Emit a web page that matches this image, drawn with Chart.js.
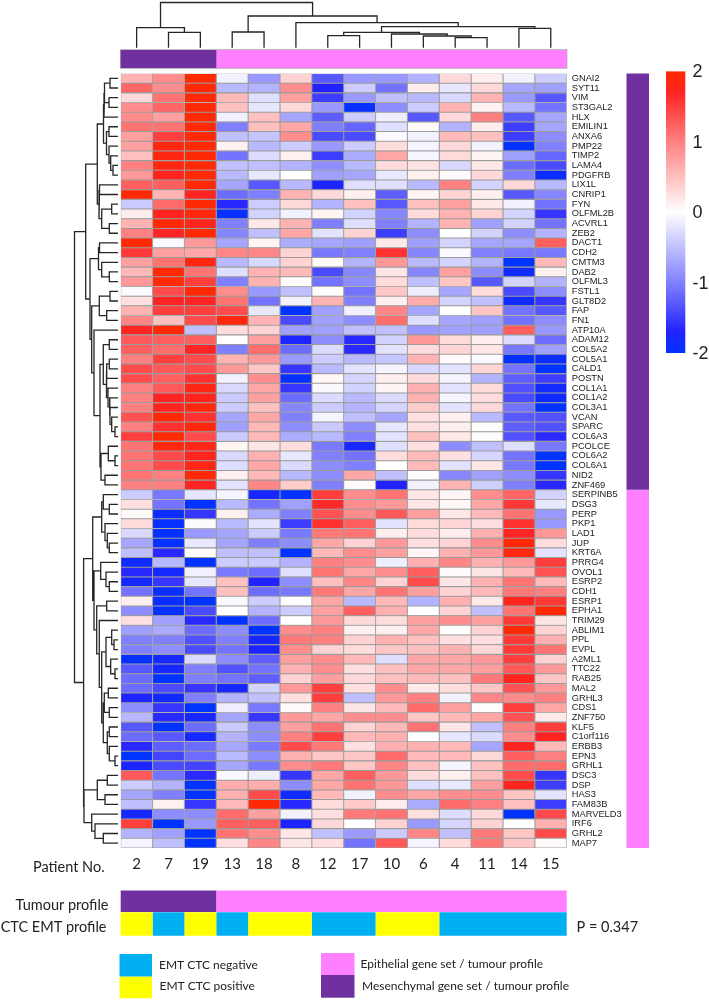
<!DOCTYPE html>
<html lang="en">
<head>
<meta charset="UTF-8">
<title>EMT gene expression heatmap</title>
<script src="https://cdn.jsdelivr.net/npm/chart.js"></script>
<style>
  html, body { margin: 0; background: #fff; }
  canvas { display: block; }
</style>
</head>
<body>
<canvas id="heatmap" width="709" height="1000"></canvas>
<script>
const patients = ['2','7','19','13','18','8','12','17','10','6','4','11','14','15'];

const genes = ['GNAI2','SYT11','VIM','ST3GAL2','HLX','EMILIN1','ANXA6','PMP22','TIMP2','LAMA4','PDGFRB','LIX1L','CNRIP1','FYN','OLFML2B','ACVRL1','ZEB2','DACT1','CDH2','CMTM3','DAB2','OLFML3','FSTL1','GLT8D2','FAP','FN1','ATP10A','ADAM12','COL5A2','COL5A1','CALD1','POSTN','COL1A1','COL1A2','COL3A1','VCAN','SPARC','COL6A3','PCOLCE','COL6A2','COL6A1','NID2','ZNF469','SERPINB5','DSG3','PERP','PKP1','LAD1','JUP','KRT6A','PRRG4','OVOL1','ESRP2','CDH1','ESRP1','EPHA1','TRIM29','ABLIM1','PPL','EVPL','A2ML1','TTC22','RAB25','MAL2','GRHL3','CDS1','ZNF750','KLF5','C1orf116','ERBB3','EPN3','GRHL1','DSC3','DSP','HAS3','FAM83B','MARVELD3','IRF6','GRHL2','MAP7'];

// one row per gene, one column per patient
const expression = [
  [.6,.9,2,-.1,-.8,.35,-1.3,-.8,-.8,-.6,.3,.15,-.1,-.4],
  [1.2,.9,1.95,-.55,-.6,.9,-1.7,-.4,-1.1,.15,-.2,.3,-.7,-.75],
  [.3,1.1,1.95,.55,-.25,.75,-1.5,-.8,-.5,-.55,-.3,.6,-.8,-1.3],
  [.9,1.2,1.95,.5,-.2,.3,-.8,-1.95,-.9,-.4,.6,.1,-.55,-1.1],
  [.9,.75,1.95,-.12,.5,-.7,-1.25,-.4,-.13,-1.3,.3,1,-1.3,-.7],
  [1.1,1.1,1.95,-1,.5,.7,-1,-1.2,-.25,.03,-.6,.15,-1.5,-.7],
  [.75,1.5,1.95,-.5,-.45,.9,-1.4,-1.4,-.04,-.1,.55,.5,-1.5,-.9],
  [.75,1.85,1.95,.1,-.55,-.4,-.8,-.4,.27,-.08,.3,-.1,-2,-1],
  [.5,1.85,1.95,-1.1,-.28,.12,-1.5,-.65,.7,-.08,.28,.08,-.75,-1.2],
  [1,1.85,1.95,-.5,-.5,-.6,-.9,-.55,.28,.22,-.3,.18,-1.15,-1.4],
  [.8,1.75,1.95,-.55,-.18,0,-.75,-.7,-.18,.12,.03,.3,-1,-1.9],
  [1.25,1.25,1.95,-.7,-1.3,-.55,-1.75,-.25,-.25,-.55,1,-.35,.3,-.55],
  [1.95,.6,1.7,-1.15,-1,.6,.3,.12,-1.25,.08,.35,.12,-1.3,-.95],
  [-.42,1.15,1.95,-1.65,-.4,.3,-.6,.5,-1.3,.5,.75,.18,-.1,-1.1],
  [.15,1.75,1.9,-1.95,-.35,-.1,.08,-.35,-.95,.28,.6,.35,-.35,-1.55],
  [.6,1.95,1.75,-1,.18,.6,-1,-.25,-1,-.6,.6,-.75,-.35,-1.1],
  [1,1.7,1.95,-.95,-.5,.7,-.22,.35,-1.5,-.9,0,-.35,-.9,-.6],
  [1.95,-.05,.8,-.7,.08,-.65,-.7,-.75,.18,-.75,-.35,-.7,-.7,1.25],
  [1.55,.75,.7,.95,.95,.35,-1.05,-1,1.6,-.95,-.05,-1,-1.05,-1.05],
  [.75,1.1,1.85,-.55,-.3,.35,.02,-.6,.8,-.55,-.35,-.6,-2,.55],
  [.55,1.95,1.1,-.25,.6,.55,-1.4,-.95,.2,-.95,.75,-.9,-1.85,.12],
  [.8,1.95,1.5,-1,.6,.02,-1.1,-.9,.28,-.5,.45,-1.3,-.35,-.6],
  [-.03,1.4,1.95,.9,-.8,-.5,.02,-1.1,.45,-.13,-.7,.28,-1.4,-.9],
  [.25,1.7,1.7,1.1,-1.1,-.1,.6,-1,.13,.65,-.35,-.5,-1.85,-1.55],
  [.6,1.5,1.5,1.4,-.18,-2,-.75,-.12,.95,-.7,0,.45,-1.1,-1.3],
  [.95,.5,1.4,1.9,.6,-1.4,-.75,-.9,1.15,-.25,-.7,-.75,-1.1,-.9],
  [1.7,1.95,-.5,.28,.35,-.75,-.75,-.5,-.5,-.8,-.75,-.75,1.25,-.8],
  [1.3,1.25,1.25,0,.75,-1.75,-.9,-1.65,-.35,.8,.28,.15,-.28,-1.15],
  [1.25,1.15,1.7,-1,1.15,-1.15,-.28,-1.65,-.22,.28,.33,.2,-1.05,-.75],
  [1,1.5,1.4,.6,.8,-.8,-.4,-.55,-.45,.6,.03,-.05,-1.95,-1.9],
  [1.4,1.3,1.4,.8,.45,-1.55,-.55,-.22,-.08,-.3,-.22,.33,-1.1,-2],
  [1.4,1.25,1.6,-.1,.9,-1.95,.07,-.33,.13,.28,-.08,-.6,-1.25,-1.5],
  [1,1.3,1.8,-.3,.7,-1.55,-.05,-.35,.08,.62,-.22,.28,-1.35,-1.85],
  [1,1.7,1.75,-.42,.75,-1.15,-.28,-.55,-.28,.62,-.08,.28,-1.4,-1.85],
  [1,1.75,1.9,-.4,.5,-.95,-.4,-.6,-.33,.4,-.22,.3,-1.1,-2],
  [1.35,1.95,1.6,-.7,.7,-1,-.08,-.5,-.7,.25,.12,-.55,-1.3,-1.35],
  [1,1.6,1.9,-.75,.55,-.9,-.42,-.9,-.2,.25,.12,.02,-1.25,-1.35],
  [1.5,1.95,1.4,-.42,.55,-.65,-.55,-1,-.22,.5,.17,.02,-1.35,-1.65],
  [1.1,1.9,1.8,.08,.2,.27,-1.05,-1.8,-.25,.25,-.9,-.5,-.25,-1.05],
  [1.1,1.4,1.75,-.3,.62,-.18,-1,-1.1,.27,.55,.25,-.33,-1.1,-2],
  [1.1,1.4,1.8,-.27,.7,-.28,-.9,-1,0,.55,-.22,.2,-1.05,-2],
  [1.1,1,1.95,.12,.55,-.55,-.9,.7,-.5,.02,-.95,-.75,-.9,-1.55],
  [1,1,1.7,-.22,.95,.4,-1,.05,-1.7,-.1,.6,-.37,-1,-1.65],
  [-.4,-1.05,-.2,-.08,-1.8,-1.95,1.5,.9,1.1,.2,.08,.9,1.2,-.35],
  [.25,-1.1,-2,-.55,-1.1,-.75,1.65,.9,.8,.2,.05,.7,1.55,-.18],
  [.03,-1.9,-1.55,.12,-.65,-1,1.35,.9,1.3,.75,.18,.55,1.1,-.8],
  [.28,-1.95,-.02,-.55,-.22,-1.5,1.6,1.25,-.22,.28,.33,.25,1.6,-.8],
  [-.3,-1.95,-.8,-.7,-.4,-1.05,1.05,1.1,.12,.28,.15,.62,1.7,.8],
  [-.7,-1.95,-.18,-.7,-1,-.9,.7,.35,.8,.25,.35,.9,1.95,.27],
  [-.5,-1.65,.02,-.5,-.5,-2,.55,.9,.75,.08,.62,.8,1.85,-.22],
  [-1.85,-.55,-2,-.4,-.42,-.6,1,.9,-.13,.62,.95,.62,.8,1.5],
  [-1.65,-1.8,-.1,-1.05,-1.15,-.25,1.1,.7,.9,1.25,.03,.2,.55,1.35],
  [-1.8,-1.55,-.2,.5,-1.7,-.9,.5,.95,.35,1.4,.2,.62,1.1,.55],
  [-1.1,-1.9,-1.1,.5,-1.15,-1.05,1.05,.7,1.1,.75,.35,.55,1.05,1],
  [.12,-1.9,-2,-.05,-.4,-.02,.7,-.55,.55,-.6,.62,.17,1.75,1.55],
  [-.9,-1.95,-1.4,0,-.6,-.4,.75,1.25,.62,0,.35,-.5,1.1,1.95],
  [.25,-.75,-1.65,-2,-1.15,0,.8,.3,.27,.75,.9,.75,1.55,.2],
  [-.75,-.65,-1.15,-.9,-2,.9,1,.12,.12,.7,0,.35,1.95,.35],
  [-1,-1,-1.35,-1,-1.8,1.05,1,.35,.62,.5,.25,.25,1.55,.62],
  [-1,-.9,-1.4,-1.1,-1.75,.9,.35,.27,.45,.5,.62,.3,1.55,1.1],
  [-1.95,-1.8,-.28,-.9,-1.25,.75,.9,.55,-.25,.7,.7,.8,1.5,.35],
  [-1.3,-1.8,-1,-1.35,-1.1,.62,.9,.25,.5,.7,.7,.75,1.3,.8],
  [-1.15,-2,-1,-1.1,-1.25,.35,.75,.3,.5,.55,.5,1.05,1.75,.45],
  [-1.15,-1.4,-1.55,-1.8,-.35,.8,1.5,.25,.9,.17,.27,.45,1.35,.8],
  [-1.75,-1.85,-1,-.6,-.5,.25,1.5,-.5,.8,1,-.1,.95,.9,1],
  [-.9,-1.55,-2,-.13,-1.05,.05,1,.2,.55,1.15,.75,.02,1.5,.7],
  [-.55,-1.65,-1.8,-.7,-1.55,.8,.7,.9,.9,.45,.55,.7,1.35,.17],
  [-1.3,-2,-1.15,-.42,-.9,.75,1.1,.35,.55,1.1,.2,-.5,1,1.5],
  [-1.15,-1.3,-1.8,-.6,-.9,1,1.5,.55,.62,0,-.2,-.28,.9,1.7],
  [-1.65,-1.25,-1.15,-.7,-1.05,1.4,1.05,.25,.62,.62,.55,-.7,1.7,.55],
  [-2,-1.45,-1.15,-.55,-.9,.62,.45,.45,1.15,.55,.55,.3,1.25,1],
  [-1.75,-1.4,-1.45,-.7,-1.05,.9,1.05,.45,.95,.5,-.08,.5,1.15,1.15],
  [1.3,-1.1,-1.65,-.05,-.13,-1.55,.7,1.25,.8,.28,.12,.5,1.4,-1.55],
  [-.4,-.6,-2,.65,.65,-.9,.7,1.1,.8,-.25,-.18,.75,1.75,-1.5],
  [-.7,-1,-2,.62,1.4,-1.85,.55,-.1,.9,.7,.9,.9,.45,-.22],
  [-.5,.12,-1.55,.55,1.95,-1.65,.27,.42,.15,-.65,1.15,1,.5,-1.5],
  [-1.8,-.9,-.9,1.15,.75,-.1,.25,1.05,1.1,.25,-.27,.3,-2,1.4],
  [1.5,-2,-.8,1.25,1.25,-1.75,.3,0,.35,-.8,-.33,.35,0,.62],
  [-.6,-.75,-2,1.1,.9,.2,-.5,-.8,-.42,.95,-.5,1.05,.45,1.4],
  [-.08,-.5,-2,.25,.95,.2,.25,-1.1,1.3,-.08,.28,1.05,.45,.05]
];

// annotation tracks
const tumourProfile = ['M','M','M','E','E','E','E','E','E','E','E','E','E','E'];
const ctcProfile = ['pos','neg','pos','neg','pos','pos','neg','neg','pos','pos','neg','neg','neg','neg'];
const geneSets = ['M','E'];
const geneSetSizes = [43, 37];

// [child a, child b, height]; a child >= leaf count points at an earlier link
const colLinks = [[1,2,15.4],[0,14,20],[3,4,15.7],[6,7,12],[10,11,10],[9,18,11.7],[8,19,13.7],[17,20,15.4],[12,13,19.4],[21,22,21],[5,23,25],[16,24,31.7],[15,25,45.2]];
const rowLinks = [[0,1,8],[2,3,9],[80,81,13.5],[82,4,14],[5,6,9],[9,10,5],[8,85,7.3],[7,86,9],[84,87,11.5],[83,88,14.5],
  [11,12,18.5],[13,14,6.3],[15,16,8.7],[91,92,16.3],[90,93,19],[89,94,20.7],[17,18,18.5],[20,21,8.7],[19,97,16.3],[96,98,19.5],
  [22,23,8],[24,25,11.3],[100,101,18.7],[27,28,8.7],[29,30,8.7],[104,31,11.3],[36,37,3],[35,106,6.3],[34,107,8],[33,108,8.4],
  [32,109,10],[105,110,11.5],[103,111,14.7],[39,40,3],[38,113,9.7],[41,42,13],[114,115,17],[112,116,18],[26,117,24],[102,118,26.3],
  [99,119,28],[95,120,32.3],[44,45,8.7],[43,122,14.7],[48,49,8.7],[47,124,10.7],[46,125,13],[123,126,16.3],[52,53,8.7],[51,128,12],
  [50,129,17.3],[54,55,11.3],[58,59,4],[57,132,6.3],[61,62,3],[60,134,7.3],[133,135,12],[63,64,9.7],[65,66,8.7],[137,138,13.7],
  [67,68,8.7],[70,71,3],[69,141,8.7],[140,142,10.7],[139,143,14.7],[136,144,16.3],[56,145,18.7],[131,146,21.3],[130,147,24],[127,148,25.3],
  [72,73,10.7],[74,75,13],[150,151,20.7],[78,79,14.7],[77,153,23],[76,154,26.3],[152,155,34],[149,156,34.4],[121,157,43.5]];

const colorStops = [[-2,[0,51,255]],[-1.7,[34,34,255]],[-1,[128,128,255]],[0,[255,255,255]],[1,[255,128,128]],[1.7,[255,36,36]],[2,[255,42,0]]];
const colorTicks = [2,1,0,-1,-2];

const trackColors = { M:'#7030a0', E:'#ff80ff', pos:'#ffff00', neg:'#00b0f0' };

function heatColor(v) {
  for (let i = 1; i < colorStops.length; i++) {
    const [v0, c0] = colorStops[i-1], [v1, c1] = colorStops[i];
    if (v <= v1) {
      const t = (v - v0) / (v1 - v0);
      return 'rgb(' + c0.map((c, j) => Math.round(c + (c1[j] - c) * t)).join(',') + ')';
    }
  }
  return 'rgb(255,42,0)';
}

// one polyline with gaps for a whole tree
function treePoints(links, nLeaves) {
  const pos = [], height = [], out = [];
  for (let i = 0; i < nLeaves; i++) { pos[i] = i + 0.5; height[i] = 0; }
  links.forEach(([a, b, h], i) => {
    out.push([pos[a], height[a]], [pos[a], h], [pos[b], h], [pos[b], height[b]], [NaN, NaN]);
    pos[nLeaves + i] = (pos[a] + pos[b]) / 2;
    height[nLeaves + i] = h;
  });
  return out;
}

// merge neighbouring equal cells so the thick lines have no seams
function runs(list) {
  const out = [];
  list.forEach((v, i) => {
    const last = out[out.length - 1];
    if (last && last.value === v) last.end = i + 1;
    else out.push({ value: v, start: i, end: i + 1 });
  });
  return out;
}

function band(points, color, width, order) {
  return { type:'scatter', showLine:true, clip:false, pointRadius:0, borderColor:color, borderWidth:width, borderCapStyle:'butt',
    xAxisID:'x', yAxisID:'yRow', order:order || 0, data:points };
}
function hBand(start, end, row, color, width, order) {
  return band([{x:start, y:row},{x:end, y:row}], color, width, order);
}

const datasets = patients.map((p, k) => ({
  type:'bar',
  indexAxis:'y',
  label:p,
  xAxisID:'x',
  yAxisID:'y',
  order:2,
  grouped:false,
  barPercentage:1,
  categoryPercentage:1,
  borderSkipped:false,
  borderWidth:0.85,
  borderColor:'#9c9c9c',
  backgroundColor:expression.map(r => heatColor(r[k])),
  data:genes.map(() => [k, k + 1])
}));

datasets.push({ type:'scatter', showLine:true, clip:false, pointRadius:0, borderColor:'#262626', borderWidth:1.3, borderJoinStyle:'miter', order:0,
  xAxisID:'x', yAxisID:'yColTree', data:treePoints(colLinks, patients.length).map(([x, y]) => ({x, y})) });
datasets.push({ type:'scatter', showLine:true, clip:false, pointRadius:0, borderColor:'#262626', borderWidth:1.3, borderJoinStyle:'miter', order:0,
  xAxisID:'xRowTree', yAxisID:'yRow', data:treePoints(rowLinks, genes.length).map(([y, x]) => ({x, y})) });

// top strip, with its grey outline
datasets.push(hBand(-0.02, 14.02, -1.5, '#a8a8a8', 19.5, 1));
runs(tumourProfile).forEach(r => datasets.push(hBand(r.start, r.end, -1.5, trackColors[r.value], 18)));

// gene set strip on the right
let geneRow = 0;
geneSets.forEach((s, i) => {
  datasets.push(band([{x:16.23, y:geneRow},{x:16.23, y:geneRow + geneSetSizes[i]}], trackColors[s], 22.5));
  geneRow += geneSetSizes[i];
});

// tracks under the heatmap
runs(tumourProfile).forEach(r => datasets.push(hBand(r.start, r.end, 85.5, trackColors[r.value], 21.6)));
runs(ctcProfile).forEach(r => datasets.push(hBand(r.start, r.end, 87.85, trackColors[r.value], 23.4)));

const decorations = {
  id:'decorations',
  afterDraw(chart) {
    const ctx = chart.ctx;
    ctx.save();

    // colour key
    const yBar = chart.scales.yBar;
    const top = yBar.getPixelForValue(2), bottom = yBar.getPixelForValue(-2);
    const grad = ctx.createLinearGradient(0, top, 0, bottom);
    for (let i = 0; i <= 40; i++) grad.addColorStop(i / 40, heatColor(2 - i / 10));
    ctx.fillStyle = grad;
    ctx.fillRect(666, top, 19.3, bottom - top);
    ctx.fillStyle = '#222';
    ctx.font = '18px "Liberation Sans"';
    ctx.textBaseline = 'middle';
    ctx.textAlign = 'left';
    colorTicks.forEach(t => ctx.fillText(String(t), 692.5, yBar.getPixelForValue(t) + 1));

    // legend swatches
    ctx.fillStyle = trackColors.neg; ctx.fillRect(119.5, 954, 32.5, 22.7);
    ctx.fillStyle = trackColors.pos; ctx.fillRect(119.5, 976.7, 32.5, 21.5);
    ctx.fillStyle = trackColors.E; ctx.fillRect(321, 953, 33.5, 22);
    ctx.fillStyle = trackColors.M; ctx.fillRect(321, 975, 33.5, 22.7);

    ctx.fillStyle = '#222';
    ctx.font = '14.5px Lato';
    ctx.textAlign = 'left';
    ctx.fillText('Patient No.', 33, 867);
    ctx.fillText('P = 0.347', 576.5, 927);
    ctx.textAlign = 'right';
    ctx.fillText('Tumour profile', 108.5, 905);
    ctx.fillText('CTC EMT profile', 106.5, 927);

    ctx.font = '12px Lato';
    ctx.textAlign = 'left';
    ctx.fillText('EMT CTC negative', 159, 965);
    ctx.fillText('EMT CTC positive', 159.5, 986.5);
    ctx.fillText('Epithelial gene set / tumour profile', 360.5, 964.5);
    ctx.fillText('Mesenchymal gene set / tumour profile', 362, 986.5);
    ctx.restore();
  }
};

new Chart(document.getElementById('heatmap').getContext('2d'), {
  type:'bar',
  data:{ labels:genes, datasets:datasets },
  plugins:[decorations],
  options:{
    responsive:false,
    animation:false,
    devicePixelRatio:1,
    layout:{ autoPadding:false, padding:{ left:120.7, top:73.5, right:0, bottom:0 } },
    plugins:{ legend:{ display:false }, tooltip:{ enabled:false } },
    scales:{
      x:{
        type:'linear', position:'bottom', min:0, max:14, offset:false,
        grid:{ display:false, drawTicks:false }, border:{ display:false },
        afterBuildTicks:s => { s.ticks = patients.map((p, i) => ({ value:i + 0.5 })); },
        afterFit:s => { s.height = 152; },
        ticks:{ autoSkip:false, maxRotation:0, padding:7, color:'#222', font:{ family:'Lato', size:15 }, callback:(v, i) => patients[i] }
      },
      y:{
        type:'category', position:'right', offset:true,
        grid:{ display:false, drawTicks:false }, border:{ display:false },
        afterFit:s => { s.width = 142.3; },
        ticks:{ autoSkip:false, padding:5, color:'#222', font:{ family:'Liberation Sans', size:9.3 } }
      },
      yRow:{ type:'linear', axis:'y', display:false, offset:false, min:0, max:80, reverse:true },
      xRowTree:{ type:'linear', axis:'x', display:false, offset:false, min:-448.7, max:-2.7, reverse:true },
      yColTree:{ type:'linear', axis:'y', display:false, offset:false, min:-800.3, max:-25.8 },
      yBar:{ type:'linear', axis:'y', display:false, offset:false, min:-9.03, max:1.97 }
    }
  }
});
</script>
</body>
</html>
